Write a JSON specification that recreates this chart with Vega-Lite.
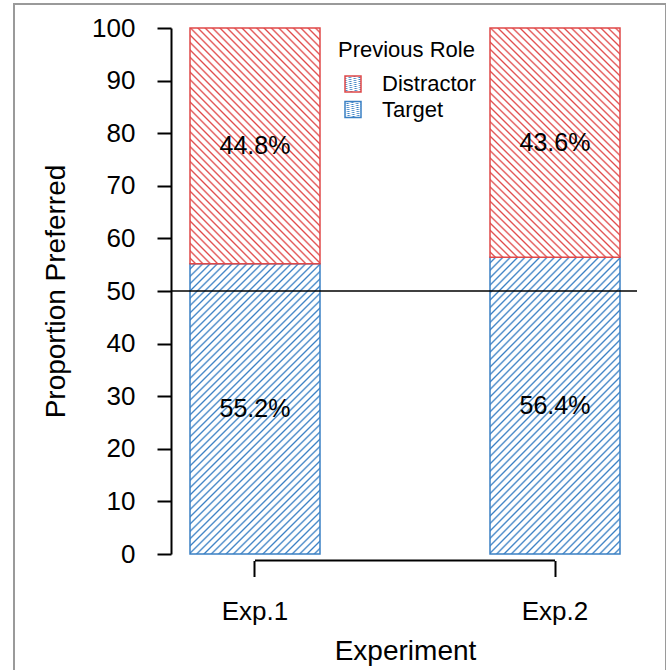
{
"$schema":"https://vega.github.io/schema/vega-lite/v6.json",
"autosize":"none",
"padding":{"left":14,"top":4,"right":0,"bottom":0},
"width":652,"height":670,
"background":"white",
"config":{"view":{"stroke":"#9a9a9a","strokeWidth":2},"font":"Liberation Sans","axis":{"grid":false}},
"data":{"values":[
{"exp":"Exp.1","role":"Target","value":55.2},
{"exp":"Exp.1","role":"Distractor","value":44.8},
{"exp":"Exp.2","role":"Target","value":56.4},
{"exp":"Exp.2","role":"Distractor","value":43.6}]},
"transform":[
{"stack":"value","groupby":["exp"],"sort":[{"field":"role","order":"descending"}],"as":["v0","v1"]},
{"calculate":"(datum.v0+datum.v1)/2","as":"mid"},
{"calculate":"format(datum.value,'.1f')+'%'","as":"label"}
],
"layer":[
{"transform":[{"filter":"datum.role === 'Target'"}],
"mark":{"type":"bar","strokeWidth":1.5,"fill":{"gradient":"linear","x1":0,"y1":0,"x2":0.930,"y2":2.097,"stops":[
{"offset":0,"color":"#fff"},
{"offset":0.005,"color":"#fff"},{"offset":0.0075,"color":"#3a80c4"},{"offset":0.01,"color":"#fff"},
{"offset":0.015,"color":"#fff"},{"offset":0.0175,"color":"#3a80c4"},{"offset":0.02,"color":"#fff"},
{"offset":0.025,"color":"#fff"},{"offset":0.0275,"color":"#3a80c4"},{"offset":0.03,"color":"#fff"},
{"offset":0.035,"color":"#fff"},{"offset":0.0375,"color":"#3a80c4"},{"offset":0.04,"color":"#fff"},
{"offset":0.045,"color":"#fff"},{"offset":0.0475,"color":"#3a80c4"},{"offset":0.05,"color":"#fff"},
{"offset":0.055,"color":"#fff"},{"offset":0.0575,"color":"#3a80c4"},{"offset":0.06,"color":"#fff"},
{"offset":0.065,"color":"#fff"},{"offset":0.0675,"color":"#3a80c4"},{"offset":0.07,"color":"#fff"},
{"offset":0.075,"color":"#fff"},{"offset":0.0775,"color":"#3a80c4"},{"offset":0.08,"color":"#fff"},
{"offset":0.085,"color":"#fff"},{"offset":0.0875,"color":"#3a80c4"},{"offset":0.09,"color":"#fff"},
{"offset":0.095,"color":"#fff"},{"offset":0.0975,"color":"#3a80c4"},{"offset":0.1,"color":"#fff"},
{"offset":0.105,"color":"#fff"},{"offset":0.1075,"color":"#3a80c4"},{"offset":0.11,"color":"#fff"},
{"offset":0.115,"color":"#fff"},{"offset":0.1175,"color":"#3a80c4"},{"offset":0.12,"color":"#fff"},
{"offset":0.125,"color":"#fff"},{"offset":0.1275,"color":"#3a80c4"},{"offset":0.13,"color":"#fff"},
{"offset":0.135,"color":"#fff"},{"offset":0.1375,"color":"#3a80c4"},{"offset":0.14,"color":"#fff"},
{"offset":0.145,"color":"#fff"},{"offset":0.1475,"color":"#3a80c4"},{"offset":0.15,"color":"#fff"},
{"offset":0.155,"color":"#fff"},{"offset":0.1575,"color":"#3a80c4"},{"offset":0.16,"color":"#fff"},
{"offset":0.165,"color":"#fff"},{"offset":0.1675,"color":"#3a80c4"},{"offset":0.17,"color":"#fff"},
{"offset":0.175,"color":"#fff"},{"offset":0.1775,"color":"#3a80c4"},{"offset":0.18,"color":"#fff"},
{"offset":0.185,"color":"#fff"},{"offset":0.1875,"color":"#3a80c4"},{"offset":0.19,"color":"#fff"},
{"offset":0.195,"color":"#fff"},{"offset":0.1975,"color":"#3a80c4"},{"offset":0.2,"color":"#fff"},
{"offset":0.205,"color":"#fff"},{"offset":0.2075,"color":"#3a80c4"},{"offset":0.21,"color":"#fff"},
{"offset":0.215,"color":"#fff"},{"offset":0.2175,"color":"#3a80c4"},{"offset":0.22,"color":"#fff"},
{"offset":0.225,"color":"#fff"},{"offset":0.2275,"color":"#3a80c4"},{"offset":0.23,"color":"#fff"},
{"offset":0.235,"color":"#fff"},{"offset":0.2375,"color":"#3a80c4"},{"offset":0.24,"color":"#fff"},
{"offset":0.245,"color":"#fff"},{"offset":0.2475,"color":"#3a80c4"},{"offset":0.25,"color":"#fff"},
{"offset":0.255,"color":"#fff"},{"offset":0.2575,"color":"#3a80c4"},{"offset":0.26,"color":"#fff"},
{"offset":0.265,"color":"#fff"},{"offset":0.2675,"color":"#3a80c4"},{"offset":0.27,"color":"#fff"},
{"offset":0.275,"color":"#fff"},{"offset":0.2775,"color":"#3a80c4"},{"offset":0.28,"color":"#fff"},
{"offset":0.285,"color":"#fff"},{"offset":0.2875,"color":"#3a80c4"},{"offset":0.29,"color":"#fff"},
{"offset":0.295,"color":"#fff"},{"offset":0.2975,"color":"#3a80c4"},{"offset":0.3,"color":"#fff"},
{"offset":0.305,"color":"#fff"},{"offset":0.3075,"color":"#3a80c4"},{"offset":0.31,"color":"#fff"},
{"offset":0.315,"color":"#fff"},{"offset":0.3175,"color":"#3a80c4"},{"offset":0.32,"color":"#fff"},
{"offset":0.325,"color":"#fff"},{"offset":0.3275,"color":"#3a80c4"},{"offset":0.33,"color":"#fff"},
{"offset":0.335,"color":"#fff"},{"offset":0.3375,"color":"#3a80c4"},{"offset":0.34,"color":"#fff"},
{"offset":0.345,"color":"#fff"},{"offset":0.3475,"color":"#3a80c4"},{"offset":0.35,"color":"#fff"},
{"offset":0.355,"color":"#fff"},{"offset":0.3575,"color":"#3a80c4"},{"offset":0.36,"color":"#fff"},
{"offset":0.365,"color":"#fff"},{"offset":0.3675,"color":"#3a80c4"},{"offset":0.37,"color":"#fff"},
{"offset":0.375,"color":"#fff"},{"offset":0.3775,"color":"#3a80c4"},{"offset":0.38,"color":"#fff"},
{"offset":0.385,"color":"#fff"},{"offset":0.3875,"color":"#3a80c4"},{"offset":0.39,"color":"#fff"},
{"offset":0.395,"color":"#fff"},{"offset":0.3975,"color":"#3a80c4"},{"offset":0.4,"color":"#fff"},
{"offset":0.405,"color":"#fff"},{"offset":0.4075,"color":"#3a80c4"},{"offset":0.41,"color":"#fff"},
{"offset":0.415,"color":"#fff"},{"offset":0.4175,"color":"#3a80c4"},{"offset":0.42,"color":"#fff"},
{"offset":0.425,"color":"#fff"},{"offset":0.4275,"color":"#3a80c4"},{"offset":0.43,"color":"#fff"},
{"offset":0.435,"color":"#fff"},{"offset":0.4375,"color":"#3a80c4"},{"offset":0.44,"color":"#fff"},
{"offset":0.445,"color":"#fff"},{"offset":0.4475,"color":"#3a80c4"},{"offset":0.45,"color":"#fff"},
{"offset":0.455,"color":"#fff"},{"offset":0.4575,"color":"#3a80c4"},{"offset":0.46,"color":"#fff"},
{"offset":0.465,"color":"#fff"},{"offset":0.4675,"color":"#3a80c4"},{"offset":0.47,"color":"#fff"},
{"offset":0.475,"color":"#fff"},{"offset":0.4775,"color":"#3a80c4"},{"offset":0.48,"color":"#fff"},
{"offset":0.485,"color":"#fff"},{"offset":0.4875,"color":"#3a80c4"},{"offset":0.49,"color":"#fff"},
{"offset":0.495,"color":"#fff"},{"offset":0.4975,"color":"#3a80c4"},{"offset":0.5,"color":"#fff"},
{"offset":0.505,"color":"#fff"},{"offset":0.5075,"color":"#3a80c4"},{"offset":0.51,"color":"#fff"},
{"offset":0.515,"color":"#fff"},{"offset":0.5175,"color":"#3a80c4"},{"offset":0.52,"color":"#fff"},
{"offset":0.525,"color":"#fff"},{"offset":0.5275,"color":"#3a80c4"},{"offset":0.53,"color":"#fff"},
{"offset":0.535,"color":"#fff"},{"offset":0.5375,"color":"#3a80c4"},{"offset":0.54,"color":"#fff"},
{"offset":0.545,"color":"#fff"},{"offset":0.5475,"color":"#3a80c4"},{"offset":0.55,"color":"#fff"},
{"offset":0.555,"color":"#fff"},{"offset":0.5575,"color":"#3a80c4"},{"offset":0.56,"color":"#fff"},
{"offset":0.565,"color":"#fff"},{"offset":0.5675,"color":"#3a80c4"},{"offset":0.57,"color":"#fff"},
{"offset":0.575,"color":"#fff"},{"offset":0.5775,"color":"#3a80c4"},{"offset":0.58,"color":"#fff"},
{"offset":0.585,"color":"#fff"},{"offset":0.5875,"color":"#3a80c4"},{"offset":0.59,"color":"#fff"},
{"offset":0.595,"color":"#fff"},{"offset":0.5975,"color":"#3a80c4"},{"offset":0.6,"color":"#fff"},
{"offset":0.605,"color":"#fff"},{"offset":0.6075,"color":"#3a80c4"},{"offset":0.61,"color":"#fff"},
{"offset":0.615,"color":"#fff"},{"offset":0.6175,"color":"#3a80c4"},{"offset":0.62,"color":"#fff"},
{"offset":0.625,"color":"#fff"},{"offset":0.6275,"color":"#3a80c4"},{"offset":0.63,"color":"#fff"}
]}},
"encoding":{
"x":{"field":"exp","type":"nominal","scale":{"domain":["Exp.1","Exp.2"],"range":[176,606],"paddingInner":0.56667,"paddingOuter":0},
"axis":{"title":"Experiment","orient":"bottom","offset":-113.5,"domain":false,"tickSize":16,"tickWidth":2,"tickColor":"black","labelFontSize":26,"labelColor":"black","labelPadding":22,"labelAngle":0,"titleFontSize":28,"titleFontWeight":"normal","titleColor":"black","titlePadding":13}},
"y":{"field":"v0","type":"quantitative","scale":{"domain":[0,100],"range":[550,24],"nice":false,"zero":false},
"axis":{"title":"Proportion Preferred","values":[0,10,20,30,40,50,60,70,80,90,100],"offset":-157,"domainColor":"black","domainWidth":2,"tickSize":14,"tickWidth":2,"tickColor":"black","labelFontSize":26,"labelColor":"black","labelPadding":22,"titleFontSize":28,"titleFontWeight":"normal","titleColor":"black","titlePadding":21}},
"y2":{"field":"v1"},
"stroke":{"field":"role","type":"nominal","scale":{"domain":["Distractor","Target"],"range":["#e04848","#3a80c4"]},
"legend":{"title":"Previous Role","orient":"none","legendX":324,"legendY":36,"padding":0,"titleFontSize":22,"titleFontWeight":"normal","titleColor":"black","titlePadding":11,"labelFontSize":22,"labelColor":"black","labelOffset":18,"symbolType":"square","symbolSize":256,"symbolStrokeWidth":1.5,"symbolOffset":4,"rowPadding":3.5}}
}},
{"transform":[{"filter":"datum.role === 'Distractor'"}],
"mark":{"type":"bar","strokeWidth":1.5,"fill":{"gradient":"linear","x1":0,"y1":1,"x2":1.343,"y2":-1.407,"stops":[
{"offset":0,"color":"#fff"},
{"offset":0.005,"color":"#fff"},{"offset":0.0075,"color":"#e04848"},{"offset":0.01,"color":"#fff"},
{"offset":0.015,"color":"#fff"},{"offset":0.0175,"color":"#e04848"},{"offset":0.02,"color":"#fff"},
{"offset":0.025,"color":"#fff"},{"offset":0.0275,"color":"#e04848"},{"offset":0.03,"color":"#fff"},
{"offset":0.035,"color":"#fff"},{"offset":0.0375,"color":"#e04848"},{"offset":0.04,"color":"#fff"},
{"offset":0.045,"color":"#fff"},{"offset":0.0475,"color":"#e04848"},{"offset":0.05,"color":"#fff"},
{"offset":0.055,"color":"#fff"},{"offset":0.0575,"color":"#e04848"},{"offset":0.06,"color":"#fff"},
{"offset":0.065,"color":"#fff"},{"offset":0.0675,"color":"#e04848"},{"offset":0.07,"color":"#fff"},
{"offset":0.075,"color":"#fff"},{"offset":0.0775,"color":"#e04848"},{"offset":0.08,"color":"#fff"},
{"offset":0.085,"color":"#fff"},{"offset":0.0875,"color":"#e04848"},{"offset":0.09,"color":"#fff"},
{"offset":0.095,"color":"#fff"},{"offset":0.0975,"color":"#e04848"},{"offset":0.1,"color":"#fff"},
{"offset":0.105,"color":"#fff"},{"offset":0.1075,"color":"#e04848"},{"offset":0.11,"color":"#fff"},
{"offset":0.115,"color":"#fff"},{"offset":0.1175,"color":"#e04848"},{"offset":0.12,"color":"#fff"},
{"offset":0.125,"color":"#fff"},{"offset":0.1275,"color":"#e04848"},{"offset":0.13,"color":"#fff"},
{"offset":0.135,"color":"#fff"},{"offset":0.1375,"color":"#e04848"},{"offset":0.14,"color":"#fff"},
{"offset":0.145,"color":"#fff"},{"offset":0.1475,"color":"#e04848"},{"offset":0.15,"color":"#fff"},
{"offset":0.155,"color":"#fff"},{"offset":0.1575,"color":"#e04848"},{"offset":0.16,"color":"#fff"},
{"offset":0.165,"color":"#fff"},{"offset":0.1675,"color":"#e04848"},{"offset":0.17,"color":"#fff"},
{"offset":0.175,"color":"#fff"},{"offset":0.1775,"color":"#e04848"},{"offset":0.18,"color":"#fff"},
{"offset":0.185,"color":"#fff"},{"offset":0.1875,"color":"#e04848"},{"offset":0.19,"color":"#fff"},
{"offset":0.195,"color":"#fff"},{"offset":0.1975,"color":"#e04848"},{"offset":0.2,"color":"#fff"},
{"offset":0.205,"color":"#fff"},{"offset":0.2075,"color":"#e04848"},{"offset":0.21,"color":"#fff"},
{"offset":0.215,"color":"#fff"},{"offset":0.2175,"color":"#e04848"},{"offset":0.22,"color":"#fff"},
{"offset":0.225,"color":"#fff"},{"offset":0.2275,"color":"#e04848"},{"offset":0.23,"color":"#fff"},
{"offset":0.235,"color":"#fff"},{"offset":0.2375,"color":"#e04848"},{"offset":0.24,"color":"#fff"},
{"offset":0.245,"color":"#fff"},{"offset":0.2475,"color":"#e04848"},{"offset":0.25,"color":"#fff"},
{"offset":0.255,"color":"#fff"},{"offset":0.2575,"color":"#e04848"},{"offset":0.26,"color":"#fff"},
{"offset":0.265,"color":"#fff"},{"offset":0.2675,"color":"#e04848"},{"offset":0.27,"color":"#fff"},
{"offset":0.275,"color":"#fff"},{"offset":0.2775,"color":"#e04848"},{"offset":0.28,"color":"#fff"},
{"offset":0.285,"color":"#fff"},{"offset":0.2875,"color":"#e04848"},{"offset":0.29,"color":"#fff"},
{"offset":0.295,"color":"#fff"},{"offset":0.2975,"color":"#e04848"},{"offset":0.3,"color":"#fff"},
{"offset":0.305,"color":"#fff"},{"offset":0.3075,"color":"#e04848"},{"offset":0.31,"color":"#fff"},
{"offset":0.315,"color":"#fff"},{"offset":0.3175,"color":"#e04848"},{"offset":0.32,"color":"#fff"},
{"offset":0.325,"color":"#fff"},{"offset":0.3275,"color":"#e04848"},{"offset":0.33,"color":"#fff"},
{"offset":0.335,"color":"#fff"},{"offset":0.3375,"color":"#e04848"},{"offset":0.34,"color":"#fff"},
{"offset":0.345,"color":"#fff"},{"offset":0.3475,"color":"#e04848"},{"offset":0.35,"color":"#fff"},
{"offset":0.355,"color":"#fff"},{"offset":0.3575,"color":"#e04848"},{"offset":0.36,"color":"#fff"},
{"offset":0.365,"color":"#fff"},{"offset":0.3675,"color":"#e04848"},{"offset":0.37,"color":"#fff"},
{"offset":0.375,"color":"#fff"},{"offset":0.3775,"color":"#e04848"},{"offset":0.38,"color":"#fff"},
{"offset":0.385,"color":"#fff"},{"offset":0.3875,"color":"#e04848"},{"offset":0.39,"color":"#fff"},
{"offset":0.395,"color":"#fff"},{"offset":0.3975,"color":"#e04848"},{"offset":0.4,"color":"#fff"},
{"offset":0.405,"color":"#fff"},{"offset":0.4075,"color":"#e04848"},{"offset":0.41,"color":"#fff"},
{"offset":0.415,"color":"#fff"},{"offset":0.4175,"color":"#e04848"},{"offset":0.42,"color":"#fff"},
{"offset":0.425,"color":"#fff"},{"offset":0.4275,"color":"#e04848"},{"offset":0.43,"color":"#fff"},
{"offset":0.435,"color":"#fff"},{"offset":0.4375,"color":"#e04848"},{"offset":0.44,"color":"#fff"},
{"offset":0.445,"color":"#fff"},{"offset":0.4475,"color":"#e04848"},{"offset":0.45,"color":"#fff"},
{"offset":0.455,"color":"#fff"},{"offset":0.4575,"color":"#e04848"},{"offset":0.46,"color":"#fff"},
{"offset":0.465,"color":"#fff"},{"offset":0.4675,"color":"#e04848"},{"offset":0.47,"color":"#fff"},
{"offset":0.475,"color":"#fff"},{"offset":0.4775,"color":"#e04848"},{"offset":0.48,"color":"#fff"},
{"offset":0.485,"color":"#fff"},{"offset":0.4875,"color":"#e04848"},{"offset":0.49,"color":"#fff"},
{"offset":0.495,"color":"#fff"},{"offset":0.4975,"color":"#e04848"},{"offset":0.5,"color":"#fff"},
{"offset":0.505,"color":"#fff"},{"offset":0.5075,"color":"#e04848"},{"offset":0.51,"color":"#fff"},
{"offset":0.515,"color":"#fff"},{"offset":0.5175,"color":"#e04848"},{"offset":0.52,"color":"#fff"},
{"offset":0.525,"color":"#fff"},{"offset":0.5275,"color":"#e04848"},{"offset":0.53,"color":"#fff"}
]}},
"encoding":{
"x":{"field":"exp","type":"nominal"},
"y":{"field":"v0","type":"quantitative"},
"y2":{"field":"v1"},
"stroke":{"field":"role","type":"nominal"}
}},
{"data":{"values":[{}]},
"mark":{"type":"rule","color":"black","strokeWidth":1.5,"xOffset":-84,"x2Offset":82},
"encoding":{"x":{"datum":"Exp.1"},"x2":{"datum":"Exp.2"},"y":{"datum":50}}},
{"data":{"values":[{}]},
"mark":{"type":"rule","color":"black","strokeWidth":2,"yOffset":6.5,"y2Offset":6.5},
"encoding":{"x":{"datum":"Exp.1"},"x2":{"datum":"Exp.2"},"y":{"datum":0}}},
{"mark":{"type":"text","fontSize":25,"color":"black","baseline":"middle"},
"encoding":{"x":{"field":"exp","type":"nominal"},"y":{"field":"mid","type":"quantitative"},"text":{"field":"label"}}}
]
}
